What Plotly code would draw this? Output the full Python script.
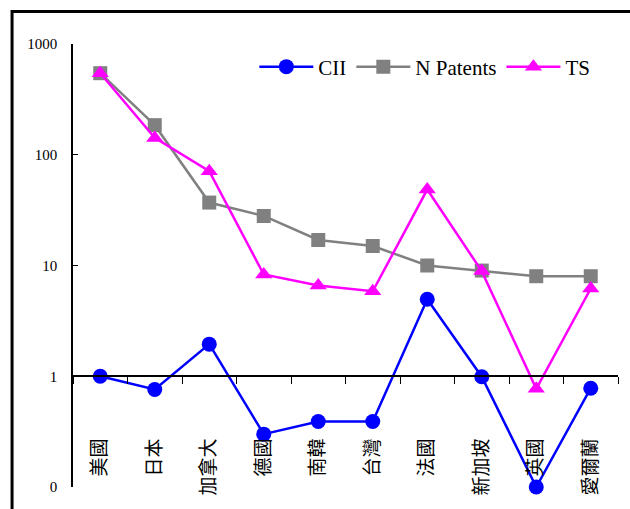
import plotly.graph_objects as go

categories = ["美國", "日本", "加拿大", "德國", "南韓", "台灣", "法國", "新加坡", "英國", "愛爾蘭"]
cii = [1.0, 0.76, 1.95, 0.30, 0.39, 0.39, 4.95, 0.99, 0.1, 0.78]
n_patents = [545, 185, 37, 28, 17, 15, 10, 9, 8, 8]
ts = [545, 142, 71, 8.3, 6.6, 5.85, 48.5, 8.9, 0.77, 6.2]
ytick_vals = [0.1, 1, 10, 100, 1000]
ytick_text = ["0", "1", "10", "100", "1000"]

W, H = 630, 509
L, R, T, B = 72.5, 12, 44, 22
pw = W - L - R
ph = H - T - B

fig = go.Figure()
series = [
    ("CII", cii, "#0000FF", "circle", 15),
    ("N Patents", n_patents, "#808080", "square", 14),
    ("TS", ts, "#FF00FF", "triangle-up", 15),
]
for name, vals, col, sym, sz in series:
    fig.add_trace(go.Scatter(
        x=categories, y=vals, name=name, mode="lines+markers",
        line=dict(color=col, width=2.5),
        marker=dict(color=col, symbol=sym, size=sz),
        cliponaxis=False,
    ))

serif = "Liberation Serif"
fig.update_layout(
    width=W, height=H,
    margin=dict(l=L, r=R, t=T, b=B, pad=0),
    paper_bgcolor="white", plot_bgcolor="white",
    font=dict(family=serif, color="black"),
    showlegend=True,
    legend=dict(orientation="h", x=(254 - L) / pw, xanchor="left",
                y=(H - B - 67) / ph, yanchor="middle",
                font=dict(family=serif, size=21, color="black"),
                bgcolor="rgba(0,0,0,0)", itemwidth=54),
    xaxis=dict(
        type="category", range=[-0.5, len(categories) - 0.5],
        anchor="free", position=0.25,
        showline=True, linecolor="black", linewidth=1.5,
        ticks="outside", ticklen=7, tickcolor="black", tickwidth=1,
        tickson="boundaries", showgrid=False, zeroline=False,
        tickangle=-90, ticklabelstandoff=54,
        tickfont=dict(family="Noto Sans CJK TC", size=19, color="black"),
        automargin=False,
    ),
    yaxis=dict(
        type="log", range=[-1, 3],
        tickvals=ytick_vals, ticktext=ytick_text,
        showline=True, linecolor="black", linewidth=1.5,
        ticks="inside", ticklen=5, tickcolor="black", tickwidth=1,
        showgrid=False, zeroline=False,
        tickfont=dict(family=serif, size=15, color="black"),
        ticklabelstandoff=11,
        automargin=False,
    ),
    shapes=[dict(type="rect", xref="paper", yref="paper",
                 x0=(11.5 - L) / pw, x1=1.2,
                 y0=-0.3, y1=(H - B - 11.5) / ph,
                 line=dict(color="black", width=3), fillcolor="rgba(0,0,0,0)",
                 layer="above")],
)

fig.write_html("out.html", config={"displayModeBar": False},
               post_script="document.body.style.margin='0px';")
